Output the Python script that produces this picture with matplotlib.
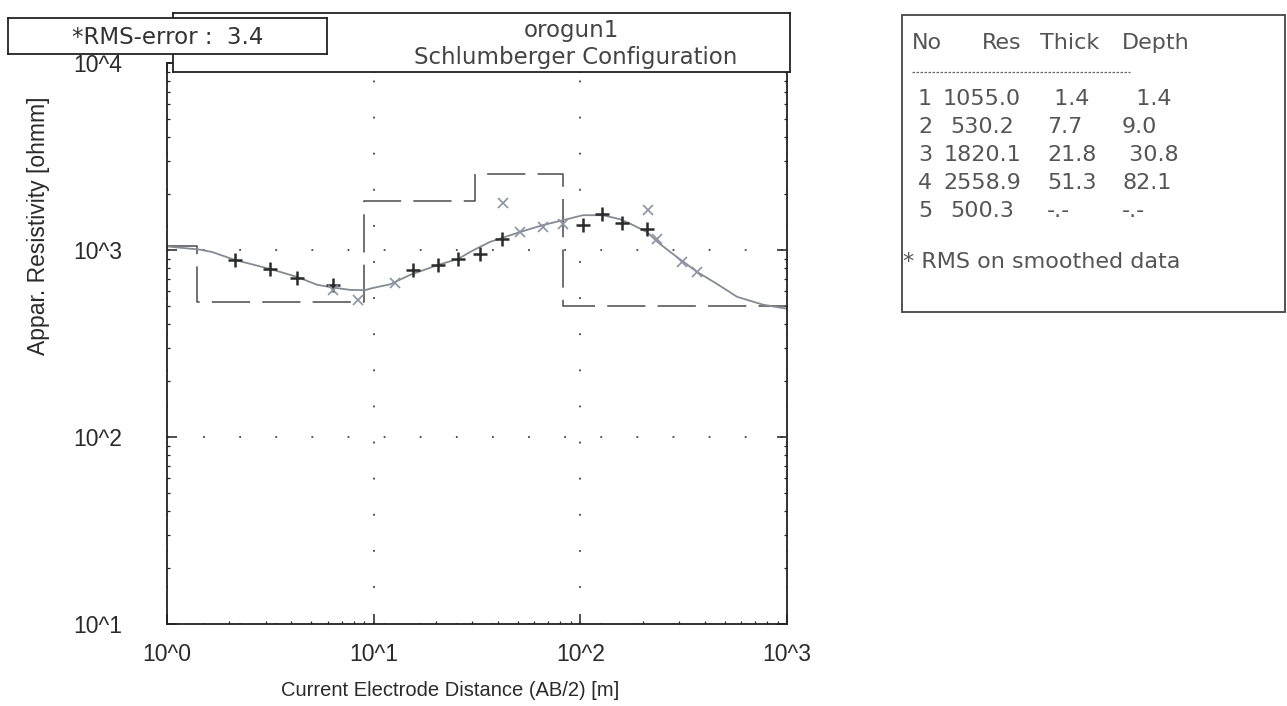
"""orogun1 - Schlumberger VES curve"""

import matplotlib.pyplot as plt
from matplotlib.patches import Rectangle
from matplotlib.lines import Line2D
from matplotlib.ticker import NullFormatter, LogLocator

plt.rcParams['font.family'] = ['Liberation Sans', 'DejaVu Sans']

# layer model (table on the right)
layer_res = [1055.0, 530.2, 1820.1, 2558.9, 500.3]
layer_thick = [1.4, 7.7, 21.8, 51.3]
layer_depth = [1.4, 9.0, 30.8, 82.1]
rms_error = 3.4

# field data (+)
ab2_field = [2.13, 3.15, 4.26, 6.35, 15.5, 20.5, 25.6, 32.7, 41.8, 103, 127, 159, 210]
rho_field = [885, 792, 710, 652, 783, 832, 896, 952, 1146, 1359, 1553, 1392, 1295]

# smoothed data (x)
ab2_smooth = [6.35, 8.4, 12.7, 42.2, 51.0, 65.9, 82.4, 212, 235, 310, 367]
rho_smooth = [612, 542, 667, 1778, 1247, 1325, 1374, 1633, 1146, 863, 764]

# model response curve
ab2_curve = [1.0, 1.44, 1.65, 2.13, 3.15, 4.26, 5.32, 6.35, 7.68, 9.08, 9.81, 12.0,
             15.0, 20.5, 25.6, 30.0, 36.5, 51.0, 65.9, 86.1, 103, 128, 156, 180,
             210, 243, 293, 367, 458, 573, 765, 1000]
rho_curve = [1045, 1005, 976, 885, 792, 718, 652, 630, 612, 610, 625, 655,
             736, 832, 896, 990, 1104, 1247, 1359, 1461, 1535, 1535, 1461, 1359,
             1247, 1076, 918, 764, 659, 562, 510, 485]

x_ticks = [1, 10, 100, 1000]
x_labels = ['10^0', '10^1', '10^2', '10^3']
y_ticks = [10, 100, 1000, 10000]
y_labels = ['10^1', '10^2', '10^3', '10^4']

W, H = 1287, 706


def fx(px):
    return px / W


def fy(py):
    return 1 - py / H


fig = plt.figure(figsize=(W / 100, H / 100), dpi=100)
ax = fig.add_axes([fx(167), fy(624), 620 / W, 561 / H])

# step model: boundaries at the layer depths
step_x = [1.0] + layer_depth + [1000]
step_y = layer_res + [layer_res[-1]]
ax.step(step_x, step_y, where='post', color='#4a4a4a', lw=1.1, ls=(0, (25, 8)))
ax.plot(ab2_curve, rho_curve, color='#858b93', lw=1.3)
ax.plot(ab2_field, rho_field, '+', color='#2b2b2b', ms=10, mew=1.8)
ax.plot(ab2_smooth, rho_smooth, 'x', color='#8a94a3', ms=7, mew=1.2)

ax.set_xscale('log')
ax.set_yscale('log')
ax.set_xlim(1, 1000)
ax.set_ylim(10, 10000)
ax.set_xticks(x_ticks, x_labels)
ax.set_yticks(y_ticks, y_labels)
ax.xaxis.set_minor_locator(LogLocator(subs=range(2, 10)))
ax.yaxis.set_minor_locator(LogLocator(subs=range(2, 10)))
ax.xaxis.set_minor_formatter(NullFormatter())
ax.yaxis.set_minor_formatter(NullFormatter())
ax.tick_params(which='both', direction='in', top=True, right=True, color='#222', labelcolor='#2a2a2a')
ax.tick_params(which='major', length=7, width=1.1, labelsize=16.5)
ax.tick_params(which='minor', length=2.5, width=0.9)
ax.tick_params(axis='x', which='major', pad=14)
ax.tick_params(axis='y', which='major', pad=32)
ax.grid(which='major', ls=(0, (1, 19)), color='#444', lw=1.3)
for s in ax.spines.values():
    s.set_color('#222')
    s.set_linewidth(1.3)

fig.text(fx(450), fy(690), 'Current Electrode Distance (AB/2) [m]', ha='center', va='center',
         fontsize=14.5, color='#2a2a2a')
fig.text(fx(39), fy(226), 'Appar. Resistivity [ohmm]', rotation=90, ha='center', va='center',
         fontsize=16.5, color='#2a2a2a')

# title box over the top of the plot
tax = fig.add_axes([fx(173), fy(72), 617 / W, 59 / H])
tax.set_xticks([])
tax.set_yticks([])
for s in tax.spines.values():
    s.set_color('#222')
    s.set_linewidth(1.3)
tax.text(0.645, 0.70, 'orogun1', ha='center', va='center', fontsize=16.5, family='DejaVu Sans',
         color='#444')
tax.text(0.652, 0.25, 'Schlumberger Configuration', ha='center', va='center', fontsize=16.5,
         family='DejaVu Sans', color='#444')

# rms box
rax = fig.add_axes([fx(8), fy(54), 319 / W, 36 / H])
rax.set_xticks([])
rax.set_yticks([])
for s in rax.spines.values():
    s.set_color('#222')
    s.set_linewidth(1.3)
rax.text(0.5, 0.45, '*RMS-error :  %.1f' % rms_error, ha='center', va='center', fontsize=16.5,
         family='DejaVu Sans', color='#333')

# layer table
fig.add_artist(Rectangle((fx(902), fy(312)), 383 / W, 297 / H, transform=fig.transFigure,
                         fill=False, ec='#444', lw=1.3))
tkw = dict(fontsize=16, family='DejaVu Sans', color='#555', va='center')
fig.text(fx(912), fy(43), 'No', **tkw)
fig.text(fx(982), fy(43), 'Res', **tkw)
fig.text(fx(1040), fy(43), 'Thick', **tkw)
fig.text(fx(1122), fy(43), 'Depth', **tkw)
fig.add_artist(Line2D([fx(912), fx(1130)], [fy(72), fy(72)], transform=fig.transFigure,
                      ls=(0, (2, 1.2)), lw=0.9, color='#666'))
row_y = [99, 127, 155, 183, 211]
thick_txt = [' %.1f' % layer_thick[0]] + ['%.1f' % t for t in layer_thick[1:]] + ['-.-']
depth_txt = ['  %.1f' % layer_depth[0], '%.1f' % layer_depth[1], ' %.1f' % layer_depth[2],
             '%.1f' % layer_depth[3], '-.-']
for i in range(len(layer_res)):
    fig.text(fx(918), fy(row_y[i]), str(i + 1), **tkw)
    fig.text(fx(982), fy(row_y[i]), '%.1f' % layer_res[i], ha='center', **tkw)
    fig.text(fx(1047), fy(row_y[i]), thick_txt[i], **tkw)
    fig.text(fx(1122), fy(row_y[i]), depth_txt[i], **tkw)
fig.text(fx(903), fy(262), '* RMS on smoothed data', **tkw)

fig.savefig('out.png', dpi=100, facecolor='white')
